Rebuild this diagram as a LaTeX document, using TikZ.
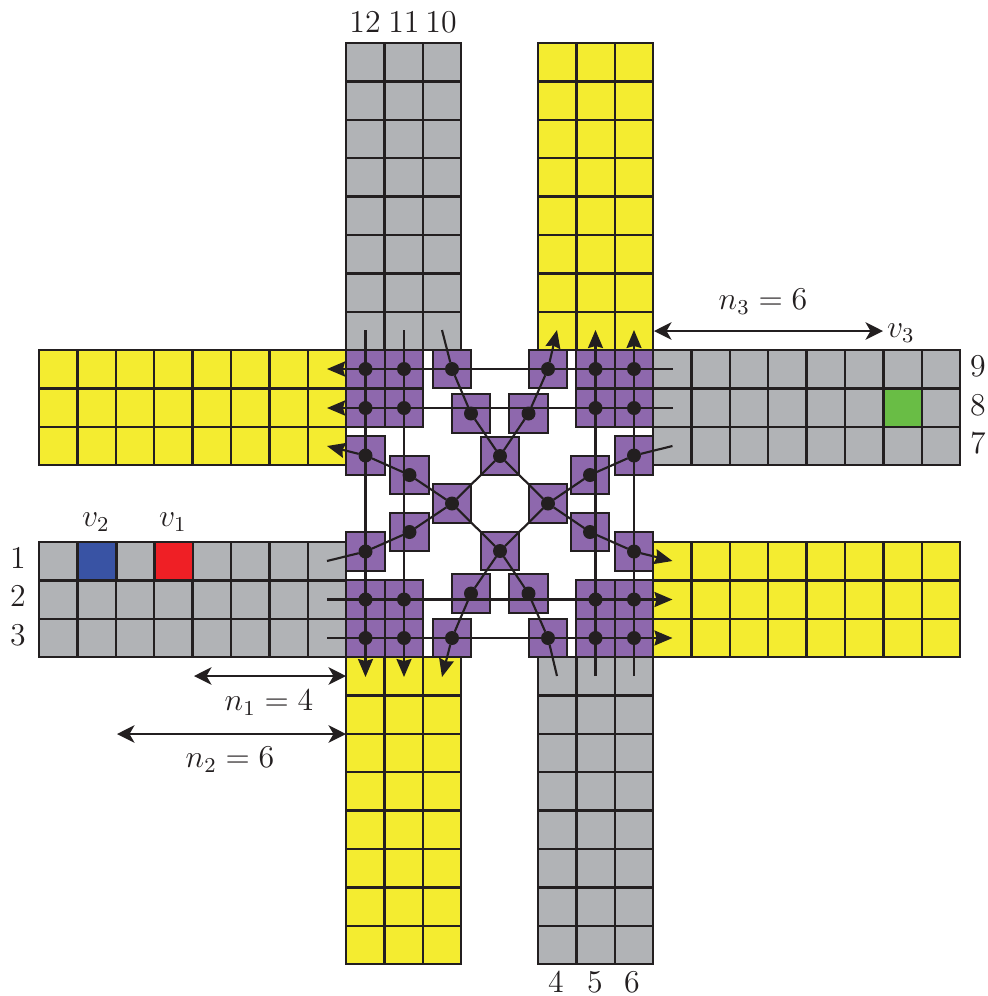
\documentclass[tikz,border=0pt,12pt]{standalone}
\usetikzlibrary{arrows.meta}
\definecolor{armgray}{HTML}{B1B3B6}
\definecolor{armyellow}{HTML}{F4EC30}
\definecolor{cellpurple}{HTML}{8E68AD}
\definecolor{cellblue}{HTML}{3953A4}
\definecolor{cellred}{HTML}{EF1F25}
\definecolor{cellgreen}{HTML}{69BD45}
\definecolor{ink}{HTML}{231F20}
\tikzset{
  cell/.style={draw=ink,line width=0.9pt,inner sep=0pt,outer sep=0pt,minimum size=15.36pt},
  sq/.style={cell,fill=cellpurple},
  dot/.style={circle,fill=ink,inner sep=0pt,outer sep=0pt,minimum size=5.6pt},
  wire/.style={draw=ink,line width=0.85pt},
  wirearrow/.style={wire,-{Stealth[length=7.2pt,width=6pt,inset=0.8pt]}},
  dimarrow/.style={draw=ink,line width=0.85pt,{Stealth[length=7pt,width=7pt,inset=2pt]}-{Stealth[length=7pt,width=7pt,inset=2pt]}},
  txt/.style={text=ink,inner sep=0pt,outer sep=0pt,scale=1.06},
}
\newcommand{\armgrid}[5]{%
  \foreach \i in {1,...,#3}{\foreach \j in {1,...,#4}{
    \node[cell,fill=#5] at ({#1+38.4*(\i-0.5)},{#2+38.4*(\j-0.5)}) {};
  }}%
}
\begin{document}
\begin{tikzpicture}[x=0.4pt,y=-0.4pt]
\useasboundingbox (0,0) rectangle (988,996);
% arms
\armgrid{346}{43}{3}{8}{armgray}
\armgrid{538}{43}{3}{8}{armyellow}
\armgrid{39}{350}{8}{3}{armyellow}
\armgrid{653}{350}{8}{3}{armgray}
\armgrid{39}{542}{8}{3}{armgray}
\armgrid{653}{542}{8}{3}{armyellow}
\armgrid{346}{657}{3}{8}{armyellow}
\armgrid{538}{657}{3}{8}{armgray}
% coloured cells
\node[cell,fill=cellblue] (vb) at (97.2,561.2) {};
\node[cell,fill=cellred] (vr) at (174,561.2) {};
\node[cell,fill=cellgreen] (vg) at (902.6,408) {};
% purple cells with dots
\foreach \n/\x/\y in {
  a/365.5/369, b/404/369, c/365.5/408, d/404/408,
  e/595.5/369, f/634/369, g/595.5/408, h/634/408,
  i/365.5/599.5, j/404/599.5, k/365.5/638, l/404/638,
  m/595.5/599.5, o/634/599.5, p/595.5/638, q/634/638,
  t1/452/369, t2/548/369, t3/471/413.5, t4/528.5/413.5,
  s1/452/638, s2/548/638, s3/471/593.5, s4/528.5/593.5,
  w1/365.5/455.5, w2/409.5/475, w3/365.5/551.5, w4/409.5/532,
  x1/634/455.5, x2/590/475, x3/634/551.5, x4/590/532,
  cn/500/456, cs/500/551, cw/452/503.5, ce/548/503.5}{
  \node[sq] (sq\n) at (\x,\y) {};
}
\foreach \n/\x/\y in {
  a/365.5/369, b/404/369, c/365.5/408, d/404/408,
  e/595.5/369, f/634/369, g/595.5/408, h/634/408,
  i/365.5/599.5, j/404/599.5, k/365.5/638, l/404/638,
  m/595.5/599.5, o/634/599.5, p/595.5/638, q/634/638,
  t1/452/369, t2/548/369, t3/471/413.5, t4/528.5/413.5,
  s1/452/638, s2/548/638, s3/471/593.5, s4/528.5/593.5,
  w1/365.5/455.5, w2/409.5/475, w3/365.5/551.5, w4/409.5/532,
  x1/634/455.5, x2/590/475, x3/634/551.5, x4/590/532,
  cn/500/456, cs/500/551, cw/452/503.5, ce/548/503.5}{
  \node[dot] (\n) at (\x,\y) {};
}
% free ends of the routes
\coordinate (c12s) at (365.5,330); \coordinate (c12e) at (365.5,677);
\coordinate (c11s) at (404,330);   \coordinate (c11e) at (404,677);
\coordinate (c5s) at (595.5,676);  \coordinate (c5e) at (595.5,330);
\coordinate (c6s) at (634,676);    \coordinate (c6e) at (634,330);
\coordinate (r9s) at (672.5,369);  \coordinate (r9e) at (327,369);
\coordinate (r8s) at (672.5,408);  \coordinate (r8e) at (327,408);
\coordinate (r2s) at (327,599.5);  \coordinate (r2e) at (672.5,599.5);
\coordinate (r3s) at (327,638);    \coordinate (r3e) at (672.5,638);
\coordinate (r1s) at (327,561);    \coordinate (r1e) at (557,330);
\coordinate (r7s) at (672.5,446);  \coordinate (r7e) at (442,677);
\coordinate (c10s) at (442,330);   \coordinate (c10e) at (672.5,561);
\coordinate (c4s) at (557,676);    \coordinate (c4e) at (327,446);
% routes
\draw[wirearrow] (c12s) -- (c12e);
\draw[wirearrow] (c11s) -- (c11e);
\draw[wirearrow] (c5s) -- (c5e);
\draw[wirearrow] (c6s) -- (c6e);
\draw[wirearrow] (r9s) -- (r9e);
\draw[wirearrow] (r8s) -- (r8e);
\draw[wirearrow] (r2s) -- (r2e);
\draw[wirearrow] (r3s) -- (r3e);
\draw[wire] (r1s) -- (w3) -- (w4) -- (cw) -- (cn) -- (t4) -- (t2);
\draw[wirearrow] (t2) -- (r1e);
\draw[wire] (r7s) -- (x1) -- (x2) -- (ce) -- (cs) -- (s3) -- (s1);
\draw[wirearrow] (s1) -- (r7e);
\draw[wire] (c10s) -- (t1) -- (t3) -- (cn) -- (ce) -- (x4) -- (x3);
\draw[wirearrow] (x3) -- (c10e);
\draw[wire] (c4s) -- (s2) -- (s4) -- (cs) -- (cw) -- (w2) -- (w1);
\draw[wirearrow] (w1) -- (c4e);
% dimension arrows
\coordinate (n1a) at (194,676); \coordinate (n1b) at (346,676);
\coordinate (n2a) at (117,734); \coordinate (n2b) at (346,734);
\coordinate (n3a) at (654,331); \coordinate (n3b) at (883,331);
\draw[dimarrow] (n1a) -- (n1b);
\draw[dimarrow] (n2a) -- (n2b);
\draw[dimarrow] (n3a) -- (n3b);
% labels
\node[txt] (ln1) at (269,703) {$n_1=4$};
\node[txt] (ln2) at (230,760) {$n_2=6$};
\node[txt] (ln3) at (763,302) {$n_3=6$};
\node[txt] (lv3) at (901,333) {$v_3$};
\node[txt] (lv2) at (96,522) {$v_2$};
\node[txt] (lv1) at (173,522) {$v_1$};
\node[txt] (t1l) at (18,557.5) {1};
\node[txt] (t2l) at (18,596) {2};
\node[txt] (t3l) at (18,635.5) {3};
\node[txt] (t9l) at (978,366) {9};
\node[txt] (t8l) at (978,405) {8};
\node[txt] (t7l) at (978,443.5) {7};
\node[txt] (t12l) at (365,22) {12};
\node[txt] (t11l) at (404,22) {11};
\node[txt] (t10l) at (441,22) {10};
\node[txt] (t4l) at (556,982) {4};
\node[txt] (t5l) at (595,982) {5};
\node[txt] (t6l) at (632,982) {6};
\end{tikzpicture}
\end{document}
